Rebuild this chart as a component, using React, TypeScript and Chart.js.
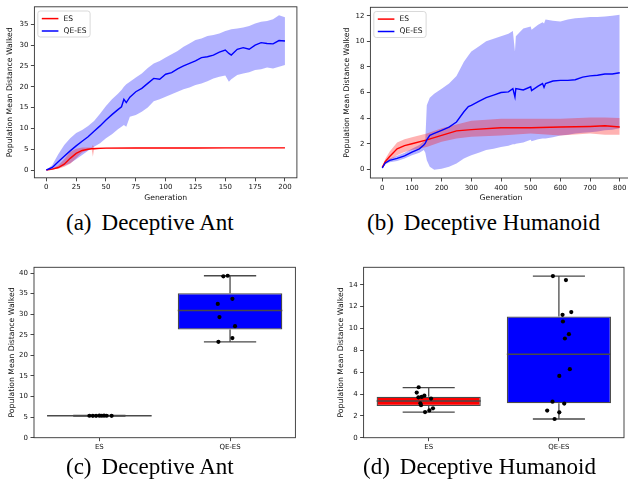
import React, { useEffect, useRef } from 'react';
import { Chart, registerables } from 'chart.js';

Chart.register(...registerables);

// ---------------- data ----------------
const SERIES = ['ES', 'QE-ES'];
const CATS = ['ES', 'QE-ES'];
const Y_TITLE = 'Population Mean Distance Walked';
const X_TITLE = 'Generation';
const CAPTIONS = [
  ['(a)', 'Deceptive Ant'],
  ['(b)', 'Deceptive Humanoid'],
  ['(c)', 'Deceptive Ant'],
  ['(d)', 'Deceptive Humanoid'],
];

// (a) Deceptive Ant – learning curves
const antTicksX = [0, 25, 50, 75, 100, 125, 150, 175, 200];
const antTicksY = [0, 5, 10, 15, 20, 25, 30, 35];
const antEsGen = [0, 5, 10, 15, 20, 25, 30, 35, 38, 39, 40, 45, 50, 75, 100, 125, 150, 175, 200];
const antEsMean = [0, 0.2, 0.6, 1.4, 2.8, 4.0, 4.7, 5.0, 5.1, 5.1, 5.1, 5.2, 5.25, 5.28, 5.3, 5.3, 5.31, 5.31, 5.32];
const antEsUpper = [0, 0.35, 1.1, 2.6, 4.3, 5.1, 5.4, 5.4, 5.4, 6.0, 5.4, 5.38, 5.36, 5.36, 5.36, 5.36, 5.37, 5.37, 5.38];
const antEsLower = [0, 0.1, 0.3, 0.8, 1.5, 2.8, 4.2, 4.8, 5.0, 3.2, 5.0, 5.1, 5.18, 5.2, 5.22, 5.24, 5.25, 5.25, 5.26];

const antQeGen = [0, 5, 10, 15, 20, 25, 30, 35, 40, 45, 50, 55, 60, 63, 65, 67, 70, 75, 80, 85, 90, 95, 100, 105, 110, 115, 120, 125, 130, 135, 140, 145, 150, 153, 155, 160, 165, 170, 175, 180, 185, 190, 195, 200];
const antQeMean = [0, 0.6, 2.0, 3.3, 4.6, 5.8, 6.9, 8.0, 9.3, 10.6, 12.0, 13.3, 14.5, 15.2, 17.0, 16.2, 17.5, 18.8, 19.6, 20.8, 22.0, 21.8, 23.0, 23.4, 24.3, 25.0, 25.6, 26.2, 27.0, 27.2, 27.6, 28.3, 28.8, 28.0, 27.6, 29.0, 29.4, 29.0, 30.0, 30.6, 30.4, 30.3, 31.1, 31.0];
const antQeUpper = [0, 1.2, 3.8, 6.0, 7.6, 8.9, 9.6, 10.6, 11.8, 13.5, 15.4, 17.0, 18.3, 19.2, 20.0, 20.6, 21.2, 22.2, 23.2, 24.5, 25.6, 26.2, 27.0, 27.8, 28.6, 29.6, 30.4, 31.2, 31.6, 32.2, 32.4, 32.8, 33.4, 33.6, 33.8, 34.0, 34.2, 34.6, 35.2, 35.6, 35.8, 36.2, 37.2, 36.7];
const antQeLower = [0, 0.1, 0.5, 1.0, 1.6, 2.6, 3.6, 4.6, 5.6, 6.4, 7.6, 8.6, 9.8, 10.4, 10.8, 10.4, 12.8, 13.2, 14.0, 15.0, 16.5, 17.0, 17.6, 18.2, 18.8, 19.4, 19.8, 20.4, 20.8, 21.3, 22.0, 22.4, 22.7, 21.2, 21.8, 22.8, 23.2, 23.5, 24.0, 24.2, 24.6, 24.4, 24.8, 25.2];

// (b) Deceptive Humanoid – learning curves
const humTicksX = [0, 100, 200, 300, 400, 500, 600, 700, 800];
const humTicksY = [0, 2, 4, 6, 8, 10, 12];
const humEsGen = [0, 10, 25, 50, 75, 100, 150, 200, 250, 300, 400, 500, 600, 700, 750, 800];
const humEsMean = [0.15, 0.6, 1.0, 1.6, 1.85, 2.0, 2.3, 2.65, 3.0, 3.1, 3.25, 3.25, 3.3, 3.35, 3.4, 3.3];
const humEsUpper = [0.2, 0.8, 1.4, 2.1, 2.35, 2.5, 2.8, 3.2, 3.5, 3.8, 3.95, 3.95, 3.95, 4.05, 4.05, 4.0];
const humEsLower = [0.05, 0.4, 0.7, 1.1, 1.35, 1.5, 1.75, 2.15, 2.4, 2.55, 2.65, 2.8, 2.65, 2.8, 2.7, 2.7];

const humQeGen = [0, 10, 25, 50, 75, 100, 125, 140, 145, 150, 160, 175, 200, 225, 250, 275, 290, 300, 325, 350, 375, 400, 425, 440, 447, 450, 475, 500, 503, 525, 540, 545, 550, 575, 600, 625, 650, 675, 700, 725, 750, 775, 800];
const humQeMean = [0.1, 0.5, 0.7, 0.85, 1.05, 1.35, 1.6, 1.9, 2.05, 2.3, 2.65, 2.8, 3.05, 3.3, 3.7, 4.5, 4.9, 5.0, 5.3, 5.6, 5.8, 6.0, 6.05, 6.3, 5.65, 6.3, 6.2, 6.45, 6.15, 6.5, 6.7, 6.4, 6.7, 6.9, 6.95, 6.95, 7.0, 7.2, 7.3, 7.35, 7.45, 7.45, 7.55];
const humQeUpper = [0.15, 0.6, 0.85, 1.05, 1.3, 1.6, 1.9, 2.2, 2.3, 5.0, 5.6, 5.9, 6.3, 6.7, 7.3, 8.4, 8.9, 9.2, 9.6, 10.0, 10.2, 10.4, 10.6, 10.8, 9.2, 10.4, 11.0, 11.15, 10.9, 11.3, 11.5, 11.4, 11.7, 11.6, 11.55, 11.7, 11.8, 11.85, 11.9, 11.9, 11.95, 12.0, 12.07];
const humQeLower = [0.05, 0.4, 0.55, 0.65, 0.85, 1.1, 1.3, 1.5, 1.3, 0.7, 0.2, -0.03, 0.05, 0.2, 0.45, 0.85, 1.0, 1.1, 1.3, 1.5, 1.6, 1.75, 1.85, 1.95, 1.95, 2.0, 2.1, 2.3, 2.2, 2.35, 2.4, 2.4, 2.4, 2.5, 2.65, 2.7, 2.8, 2.85, 2.9, 2.95, 3.05, 3.1, 3.2];

// (c) Deceptive Ant – final distribution
const antBoxTicksY = [0, 5, 10, 15, 20, 25, 30, 35, 40];
const antQ1 = [5.27, 26.3];
const antMed = [5.33, 30.9];
const antQ3 = [5.37, 35.1];
const antLo = [5.22, 23.3];
const antHi = [5.42, 39.35];
const antEsPts = [5.33, 5.32, 5.31, 5.34, 5.33, 5.35, 5.33, 5.32];
const antEsJitter = [-0.076, -0.05, -0.025, 0.0, 0.018, 0.036, 0.056, 0.094];
const antQePts = [39.2, 39.35, 33.75, 32.5, 29.3, 27.1, 24.2, 23.3];
const antQeJitter = [-0.051, -0.018, 0.018, -0.094, -0.081, 0.038, 0.018, -0.089];

// (d) Deceptive Humanoid – final distribution
const humBoxTicksY = [0, 2, 4, 6, 8, 10, 12, 14];
const humQ1 = [2.9, 3.15];
const humMed = [3.36, 7.64];
const humQ3 = [3.76, 11.1];
const humLo = [2.35, 1.71];
const humHi = [4.59, 14.8];
const humEsPts = [4.62, 4.13, 3.7, 3.73, 3.85, 3.58, 3.15, 2.97, 2.69, 2.5, 2.35];
const humEsJitter = [-0.077, -0.092, -0.079, -0.054, -0.033, 0.018, -0.064, -0.059, 0.033, 0.005, -0.028];
const humQePts = [14.8, 14.43, 11.25, 11.5, 10.64, 9.48, 9.08, 6.27, 5.66, 3.3, 3.12, 2.48, 2.32, 1.71];
const humQeJitter = [-0.046, 0.054, 0.028, 0.095, 0.031, 0.077, 0.046, 0.084, 0.003, -0.049, 0.041, -0.09, 0.003, -0.033];

// ---------------- styling ----------------
const FONT = 'DejaVu Sans';
const TICK_FONT = { family: FONT, size: 7 };
const TITLE_FONT = { family: FONT, size: 7.7 };
const INK = '#111';
const SPINE = '#333';
const EDGE = '#4a4a4a';
const RED = '#ff0000';
const BLUE = '#0000ff';
const RED_BAND = 'rgba(255,0,0,0.3)';
const BLUE_BAND = 'rgba(0,0,255,0.3)';
const CAP = 0.2;
const BOX_HALF = 0.4;

type Layout = {
  yAxisW: number; xAxisH: number; padTop: number; padRight: number;
  yTitlePad: number; xTitlePad: number;
};

const framePlugin = {
  id: 'mplFrame',
  afterDatasetsDraw(chart: any, _args: any, opts: any) {
    const { ctx, chartArea: a } = chart;
    ctx.save();
    ctx.strokeStyle = SPINE;
    ctx.lineWidth = 0.9;
    ctx.strokeRect(a.left, a.top, a.right - a.left, a.bottom - a.top);
    const lg = opts && opts.box;
    if (lg) {
      const items = chart.data.datasets.filter((d: any) => d.label);
      const x = a.left + lg.dx;
      const y = a.top + lg.dy;
      ctx.beginPath();
      if ((ctx as any).roundRect) (ctx as any).roundRect(x, y, lg.w, lg.h, 2.5);
      else ctx.rect(x, y, lg.w, lg.h);
      ctx.fillStyle = 'rgba(255,255,255,0.8)';
      ctx.fill();
      ctx.strokeStyle = '#cfcfcf';
      ctx.lineWidth = 0.8;
      ctx.stroke();
      ctx.font = `${lg.fontSize}px "${FONT}"`;
      ctx.textBaseline = 'middle';
      ctx.textAlign = 'left';
      items.forEach((d: any, i: number) => {
        const cy = y + lg.row0 + i * lg.rowGap;
        ctx.strokeStyle = d.borderColor;
        ctx.lineWidth = 1.5;
        ctx.beginPath();
        ctx.moveTo(x + lg.line0, cy);
        ctx.lineTo(x + lg.line1, cy);
        ctx.stroke();
        ctx.fillStyle = INK;
        ctx.fillText(d.label, x + lg.text0, cy);
      });
    }
    ctx.restore();
  },
};

function axis(kind: 'x' | 'y', min: number, max: number, ticks: number[], L: Layout, title?: string, labels?: string[]) {
  return {
    type: 'linear',
    min,
    max,
    offset: false,
    beginAtZero: false,
    afterBuildTicks: (s: any) => { s.ticks = ticks.map((v) => ({ value: v })); },
    afterFit: (s: any) => { if (kind === 'x') s.height = L.xAxisH; else s.width = L.yAxisW; },
    grid: { display: true, offset: false, drawOnChartArea: false, drawTicks: true, tickLength: 3.5, tickColor: SPINE, tickWidth: 0.9 },
    border: { display: false },
    ticks: {
      autoSkip: false, maxRotation: 0, minRotation: 0,
      padding: kind === 'x' ? 2 : 2.5,
      color: INK, font: TICK_FONT,
      callback: labels ? (v: any) => labels[v] ?? '' : (v: any) => String(v),
    },
    title: title
      ? {
          display: true, text: title, color: INK, font: TITLE_FONT,
          padding: kind === 'x' ? { top: 0, bottom: L.xTitlePad } : { top: L.yTitlePad, bottom: 0 },
        }
      : { display: false },
  };
}

function baseOptions(L: Layout, scales: any, legendBox?: any) {
  return {
    responsive: false,
    animation: false,
    devicePixelRatio: 1,
    events: [],
    layout: { padding: { left: 0, top: L.padTop, right: L.padRight, bottom: 0 } },
    plugins: { legend: { display: false }, tooltip: { enabled: false }, mplFrame: { box: legendBox } },
    scales,
  };
}

type Series = { name: string; gen: number[]; mean: number[]; upper: number[]; lower: number[]; color: string; band: string };

function curveConfig(c: { series: Series[]; x: [number, number, number[]]; y: [number, number, number[]]; L: Layout; legend: any }) {
  const pts = (g: number[], v: number[]) => g.map((x, k) => ({ x, y: v[k] }));
  const datasets: any[] = [];
  c.series.forEach((s, i) => {
    datasets.push({
      type: 'line', label: s.name, data: pts(s.gen, s.mean), borderColor: s.color, borderWidth: 1.4,
      pointRadius: 0, fill: false, tension: 0, order: i === 0 ? 2 : 1,
    });
  });
  c.series.forEach((s, i) => {
    datasets.push({
      type: 'line', label: '', data: pts(s.gen, s.upper), borderColor: 'transparent', borderWidth: 0,
      pointRadius: 0, backgroundColor: s.band, fill: '+1', order: i === 0 ? 10 : 12,
    });
    datasets.push({
      type: 'line', label: '', data: pts(s.gen, s.lower), borderColor: 'transparent', borderWidth: 0,
      pointRadius: 0, fill: false, order: i === 0 ? 9 : 11,
    });
  });
  return {
    type: 'scatter',
    data: { datasets },
    options: baseOptions(c.L, {
      x: axis('x', c.x[0], c.x[1], c.x[2], c.L, X_TITLE),
      y: axis('y', c.y[0], c.y[1], c.y[2], c.L, Y_TITLE),
    }, c.legend),
    plugins: [framePlugin],
  };
}

function boxConfig(c: {
  q1: number[]; med: number[]; q3: number[]; lo: number[]; hi: number[];
  points: number[][]; jitter: number[][]; colors: string[]; yMax: number; yTicks: number[]; L: Layout;
}) {
  const whisk: any[] = [];
  const med: any[] = [];
  CATS.forEach((_, i) => {
    whisk.push(
      { x: i, y: c.lo[i] }, { x: i, y: c.q1[i] }, { x: i, y: null },
      { x: i, y: c.q3[i] }, { x: i, y: c.hi[i] }, { x: i, y: null },
      { x: i - CAP, y: c.lo[i] }, { x: i + CAP, y: c.lo[i] }, { x: i, y: null },
      { x: i - CAP, y: c.hi[i] }, { x: i + CAP, y: c.hi[i] }, { x: i, y: null },
    );
    med.push({ x: i - BOX_HALF, y: c.med[i] }, { x: i + BOX_HALF, y: c.med[i] }, { x: i, y: null });
  });
  const dots: any[] = [];
  c.points.forEach((vals, i) => vals.forEach((v, k) => dots.push({ x: i + c.jitter[i][k], y: v })));
  const datasets: any[] = [
    { type: 'scatter', label: '', data: dots, pointRadius: 2.1, pointBackgroundColor: '#000', pointBorderWidth: 0, order: 1 },
    { type: 'line', label: '', data: med, borderColor: EDGE, borderWidth: 1.3, pointRadius: 0, fill: false, order: 2 },
    { type: 'line', label: '', data: whisk, borderColor: EDGE, borderWidth: 1.3, pointRadius: 0, fill: false, order: 3 },
    {
      type: 'bar', label: '', data: CATS.map((_, i) => ({ x: i, y: [c.q1[i], c.q3[i]] })),
      backgroundColor: c.colors, borderColor: EDGE, borderWidth: 1.3, borderSkipped: false,
      categoryPercentage: 0.8, barPercentage: 1, order: 4,
    },
  ];
  return {
    type: 'scatter',
    data: { datasets },
    options: baseOptions(c.L, {
      x: axis('x', -0.5, 1.5, [0, 1], c.L, undefined, CATS),
      y: axis('y', 0, c.yMax, c.yTicks, c.L, Y_TITLE),
    }),
    plugins: [framePlugin],
  };
}

const LEGEND = { dx: 3.4, dy: 4.2, w: 52.3, h: 26, row0: 7.6, rowGap: 12.4, line0: 4, line1: 20.6, text0: 25.6, fontSize: 7.6 };

function ChartPanel({ left, top, width, height, build }: { left: number; top: number; width: number; height: number; build: () => any }) {
  const ref = useRef<HTMLCanvasElement>(null);
  useEffect(() => {
    const chart = new Chart(ref.current as HTMLCanvasElement, build());
    return () => chart.destroy();
  }, []);
  return (
    <div style={{ position: 'absolute', left, top, width, height }}>
      <canvas ref={ref} width={width} height={height} style={{ width, height, display: 'block' }} />
    </div>
  );
}

function Caption({ left, top, tag, text }: { left: number; top: number; tag: string; text: string }) {
  return (
    <div style={{ position: 'absolute', left, top, font: '23px "Liberation Serif"', lineHeight: '23px', whiteSpace: 'nowrap', color: '#000' }}>
      <span>{tag}</span>
      <span style={{ marginLeft: 10 }}>{text}</span>
    </div>
  );
}

export default function App() {
  const buildA = () => curveConfig({
    series: [
      { name: SERIES[0], gen: antEsGen, mean: antEsMean, upper: antEsUpper, lower: antEsLower, color: RED, band: RED_BAND },
      { name: SERIES[1], gen: antQeGen, mean: antQeMean, upper: antQeUpper, lower: antQeLower, color: BLUE, band: BLUE_BAND },
    ],
    x: [-10, 210, antTicksX],
    y: [-1.87, 39.2, antTicksY],
    L: { yAxisW: 34.4, xAxisH: 32.2, padTop: 6.8, padRight: 17.1, yTitlePad: 5.8, xTitlePad: 7.8 },
    legend: LEGEND,
  });
  const buildB = () => curveConfig({
    series: [
      { name: SERIES[0], gen: humEsGen, mean: humEsMean, upper: humEsUpper, lower: humEsLower, color: RED, band: RED_BAND },
      { name: SERIES[1], gen: humQeGen, mean: humQeMean, upper: humQeUpper, lower: humQeLower, color: BLUE, band: BLUE_BAND },
    ],
    x: [-40, 840, humTicksX],
    y: [-0.68, 12.66, humTicksY],
    L: { yAxisW: 56.4, xAxisH: 32, padTop: 7.3, padRight: 2.4, yTitlePad: 28.8, xTitlePad: 7.8 },
    legend: LEGEND,
  });
  const buildC = () => boxConfig({
    q1: antQ1, med: antMed, q3: antQ3, lo: antLo, hi: antHi,
    points: [antEsPts, antQePts], jitter: [antEsJitter, antQeJitter],
    colors: [RED, BLUE], yMax: 41.4, yTicks: antBoxTicksY,
    L: { yAxisW: 34, xAxisH: 22.3, padTop: 12.3, padRight: 18.6, yTitlePad: 7.2, xTitlePad: 0 },
  });
  const buildD = () => boxConfig({
    q1: humQ1, med: humMed, q3: humQ3, lo: humLo, hi: humHi,
    points: [humEsPts, humQePts], jitter: [humEsJitter, humQeJitter],
    colors: [RED, BLUE], yMax: 15.6, yTicks: humBoxTicksY,
    L: { yAxisW: 49.6, xAxisH: 22.3, padTop: 12.3, padRight: 3.6, yTitlePad: 22.2, xTitlePad: 0 },
  });
  return (
    <div style={{ position: 'fixed', left: 0, top: 0, width: 628, height: 491, overflow: 'hidden', background: '#fff' }}>
      <ChartPanel left={0} top={0} width={314} height={210} build={buildA} />
      <ChartPanel left={314} top={0} width={320} height={210} build={buildB} />
      <ChartPanel left={0} top={255} width={314} height={205} build={buildC} />
      <ChartPanel left={314} top={255} width={314} height={205} build={buildD} />
      <Caption left={66} top={210.7} tag={CAPTIONS[0][0]} text={CAPTIONS[0][1]} />
      <Caption left={367} top={210.7} tag={CAPTIONS[1][0]} text={CAPTIONS[1][1]} />
      <Caption left={66} top={455.2} tag={CAPTIONS[2][0]} text={CAPTIONS[2][1]} />
      <Caption left={363} top={455.2} tag={CAPTIONS[3][0]} text={CAPTIONS[3][1]} />
    </div>
  );
}
